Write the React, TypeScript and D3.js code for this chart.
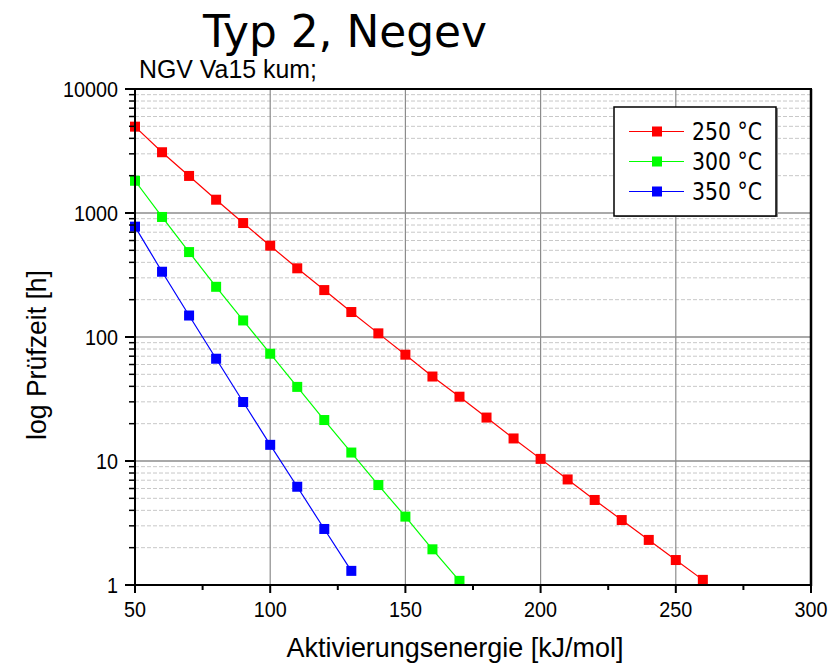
import React from "react";
import * as d3 from "d3";

const energy250 = [50, 60, 70, 80, 90, 100, 110, 120, 130, 140, 150, 160, 170, 180, 190, 200, 210, 220, 230, 240, 250, 260];
const time250 = [4970, 3090, 1990, 1280, 830, 545, 358, 239, 159, 107, 72, 48, 33, 22.4, 15.2, 10.4, 7.1, 4.85, 3.34, 2.31, 1.59, 1.1];
const energy300 = [50, 60, 70, 80, 90, 100, 110, 120, 130, 140, 150, 160, 170];
const time300 = [1820, 929, 484, 254, 136, 73.3, 39.6, 21.4, 11.7, 6.4, 3.56, 1.94, 1.08];
const energy350 = [50, 60, 70, 80, 90, 100, 110, 120, 130];
const time350 = [776, 336, 149, 66.8, 29.9, 13.5, 6.2, 2.83, 1.3];

const seriesNames = ["250 °C", "300 °C", "350 °C"];
const seriesColors = ["#ff0000", "#00ff00", "#0000ff"];

const xTicks = [50, 100, 150, 200, 250, 300];
const xMinorTicks = [75, 125, 175, 225, 275];
const yTicks = [1, 10, 100, 1000, 10000];
const yTickLabels = ["1", "10", "100", "1000", "10000"];

const title = "Typ 2, Negev";
const subtitle = "NGV Va15 kum;";
const xLabel = "Aktivierungsenergie [kJ/mol]";
const yLabel = "log Prüfzeit [h]";

export default function App() {
  const left = 135, right = 811, top = 89, bottom = 585;
  const x = d3.scaleLinear().domain([50, 300]).range([left, right]);
  const y = d3.scaleLog().domain([1, 10000]).range([bottom, top]);

  const series = [
    { xs: energy250, ys: time250 },
    { xs: energy300, ys: time300 },
    { xs: energy350, ys: time350 },
  ];

  const line = d3
    .line<[number, number]>()
    .x((d) => x(d[0]))
    .y((d) => y(d[1]));

  const minorY: number[] = [];
  for (let dec = 1; dec < 10000; dec *= 10) {
    for (let k = 2; k <= 9; k++) minorY.push(dec * k);
  }

  const tickFont = "'Liberation Sans', Arial, sans-serif";
  const ms = 10;

  return (
    <svg width={840} height={665} style={{ position: "absolute", left: 0, top: 0, background: "#fff" }}>
      <rect x={0} y={0} width={840} height={665} fill="#fff" />
      {/* minor horizontal grid */}
      {minorY.map((v) => (
        <line key={"mg" + v} x1={left} x2={right} y1={y(v)} y2={y(v)} stroke="#c8c8c8" strokeWidth={1} strokeDasharray="4,2" />
      ))}
      {/* major grid */}
      {yTicks.slice(1, -1).map((v) => (
        <line key={"gy" + v} x1={left} x2={right} y1={y(v)} y2={y(v)} stroke="#8c8c8c" strokeWidth={1.5} />
      ))}
      {xTicks.slice(1, -1).map((v) => (
        <line key={"gx" + v} x1={x(v)} x2={x(v)} y1={top} y2={bottom} stroke="#8c8c8c" strokeWidth={1.2} />
      ))}

      {/* series */}
      {series.map((s, i) => {
        const pts: [number, number][] = s.xs.map((xv, j) => [xv, s.ys[j]]);
        return (
          <g key={"s" + i}>
            <path d={line(pts) || ""} fill="none" stroke={seriesColors[i]} strokeWidth={1.2} />
            {pts.map((p, j) => (
              <rect key={j} x={x(p[0]) - ms / 2} y={y(p[1]) - ms / 2} width={ms} height={ms} fill={seriesColors[i]} />
            ))}
          </g>
        );
      })}

      {/* frame */}
      <line x1={left} x2={right + 1} y1={top} y2={top} stroke="#000" strokeWidth={2} />
      <line x1={right} x2={right} y1={top} y2={bottom + 1} stroke="#000" strokeWidth={2.5} />
      <line x1={left} x2={left} y1={top - 1} y2={bottom + 1} stroke="#000" strokeWidth={2} />
      <line x1={left - 1} x2={right + 1} y1={bottom} y2={bottom} stroke="#000" strokeWidth={2} />

      {/* x ticks */}
      {xTicks.map((v) => (
        <g key={"xt" + v}>
          <line x1={x(v)} x2={x(v)} y1={bottom} y2={bottom + 8} stroke="#000" strokeWidth={2} />
          <text x={x(v)} y={617} textAnchor="middle" fontFamily={tickFont} fontSize={22} textLength={String(v).length * 11} lengthAdjust="spacingAndGlyphs">
            {String(v)}
          </text>
        </g>
      ))}
      {xMinorTicks.map((v) => (
        <line key={"xm" + v} x1={x(v)} x2={x(v)} y1={bottom} y2={bottom + 5} stroke="#000" strokeWidth={2} />
      ))}

      {/* y ticks */}
      {yTicks.map((v, i) => (
        <g key={"yt" + v}>
          <line x1={left - 10} x2={left} y1={y(v)} y2={y(v)} stroke="#000" strokeWidth={2} />
          <text x={118} y={y(v) + 8} textAnchor="end" fontFamily={tickFont} fontSize={22} textLength={yTickLabels[i].length * 11} lengthAdjust="spacingAndGlyphs">
            {yTickLabels[i]}
          </text>
        </g>
      ))}
      {minorY.map((v) => (
        <line key={"ym" + v} x1={left - 6} x2={left} y1={y(v)} y2={y(v)} stroke="#000" strokeWidth={1.5} />
      ))}

      {/* titles */}
      <text x={203} y={47} fontFamily="'DejaVu Sans', sans-serif" fontSize={44} textLength={284} lengthAdjust="spacingAndGlyphs">
        {title}
      </text>
      <text x={139} y={78} fontFamily={tickFont} fontSize={26} textLength={178} lengthAdjust="spacingAndGlyphs">
        {subtitle}
      </text>
      <text x={455} y={657} textAnchor="middle" fontFamily={tickFont} fontSize={28} textLength={337} lengthAdjust="spacingAndGlyphs">
        {xLabel}
      </text>
      <text transform="translate(46,355) rotate(-90)" textAnchor="middle" fontFamily={tickFont} fontSize={28} textLength={170} lengthAdjust="spacingAndGlyphs">
        {yLabel}
      </text>

      {/* legend */}
      <g>
        <rect x={616} y={108} width={162} height={109} fill="#888" />
        <rect x={614} y={107} width={162} height={109} fill="#fff" stroke="#000" strokeWidth={1.5} />
        {seriesNames.map((n, i) => {
          const cy = 131.5 + i * 30;
          return (
            <g key={"lg" + i}>
              <line x1={629} x2={684} y1={cy} y2={cy} stroke={seriesColors[i]} strokeWidth={1.2} />
              <rect x={657 - ms / 2} y={cy - ms / 2} width={ms} height={ms} fill={seriesColors[i]} />
              <text x={692} y={cy + 8} fontFamily="'DejaVu Sans', sans-serif" fontSize={25} textLength={70} lengthAdjust="spacingAndGlyphs">
                {n}
              </text>
            </g>
          );
        })}
      </g>
    </svg>
  );
}
